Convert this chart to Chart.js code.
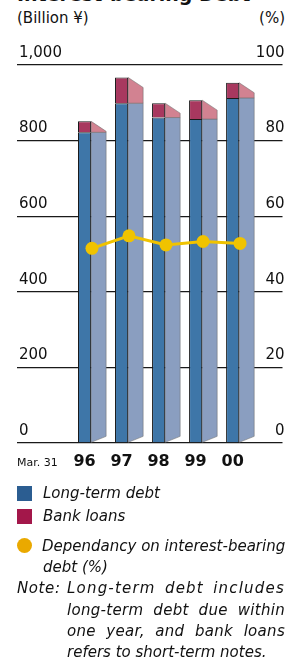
<!DOCTYPE html>
<html><head><meta charset="utf-8">
<script src="https://cdn.jsdelivr.net/npm/chart.js@4"></script>
<style>
html,body{margin:0;padding:0;background:#fff;width:289px;height:662px;overflow:hidden;font-family:"DejaVu Sans",sans-serif;color:#111}
#wrap{position:relative;width:289px;height:662px;overflow:hidden}
#c{position:absolute;left:0;top:0}
.t{position:absolute;white-space:nowrap}
.it{font-style:italic;font-size:15px;line-height:20px}
.sw{position:absolute;width:15px;height:15px}
.jl{position:absolute;left:67px;width:218px;text-align:justify;text-align-last:justify;font-style:italic;font-size:15px;line-height:20px;white-space:nowrap}
</style></head><body>
<div id="wrap">
<div class="t" style="left:17px;top:-15px;font-weight:bold;font-size:19px;line-height:19px">Interest-bearing Debt</div>
<div class="t" style="left:17px;top:11px;font-size:15px;line-height:15px">(Billion ¥)</div>
<div class="t" style="right:4px;top:11px;font-size:15px;line-height:15px">(%)</div>
<canvas id="c" width="289" height="480"></canvas>
<div class="t" style="left:17px;top:456px;font-size:11px;line-height:13px">Mar. 31</div>

<div class="sw" style="left:17px;top:486px;background:#2b5d91"></div>
<div class="t it" style="left:43px;top:483px">Long-term debt</div>
<div class="sw" style="left:17px;top:509px;background:#a3174a"></div>
<div class="t it" style="left:43px;top:506px">Bank loans</div>
<div class="sw" style="left:17px;top:538px;background:#eaa900;border-radius:50%"></div>
<div class="t it" style="left:42px;top:536px">Dependancy on interest-bearing</div>
<div class="t it" style="left:43px;top:557px">debt (%)</div>
<div class="t it" style="left:17px;top:578px;letter-spacing:0.6px">Note:</div>
<div class="jl" style="top:578px;letter-spacing:1.2px">Long-term debt includes</div>
<div class="jl" style="top:600px;letter-spacing:0.3px">long-term debt due within</div>
<div class="jl" style="top:621px;letter-spacing:0.3px">one year, and bank loans</div>
<div class="jl" style="top:642px;text-align:left;text-align-last:left">refers to short-term notes.</div>
</div>
<script>
const years = ['96', '97', '98', '99', '00'];
const longTermDebt = [822, 899, 861, 857, 913];
const bankLoans = [29, 68, 38, 50, 40];
const dependency = [51.5, 54.8, 52.4, 53.3, 52.8];
const leftTicks = [0, 200, 400, 600, 800, 1000];
const rightTicks = [0, 20, 40, 60, 80, 100];

const toXY = arr => arr.map((v, i) => ({x: i, y: v}));

const sideFaces = {
  id: 'sideFaces',
  beforeDatasetsDraw(chart) {
    const ctx = chart.ctx;
    const lt = chart.getDatasetMeta(0).data;
    const bk = chart.getDatasetMeta(1).data;
    const depth = 15, topDrop = 10, baseRise = 6;
    ctx.save();
    ctx.lineWidth = 1;
    ctx.strokeStyle = 'rgba(110,110,110,0.55)';
    lt.forEach((el, i) => {
      const b = bk[i];
      const xr = el.x + el.width / 2, xe = xr + depth;
      ctx.beginPath();
      ctx.moveTo(xr, el.base);
      ctx.lineTo(xe, el.base - baseRise);
      ctx.lineTo(xe, el.y);
      ctx.lineTo(xr, el.y);
      ctx.closePath();
      ctx.fillStyle = '#8a9ec0';
      ctx.fill();
      ctx.stroke();
      const drop = Math.min(topDrop, b.base - b.y);
      ctx.beginPath();
      ctx.moveTo(xr, b.y);
      ctx.lineTo(xe, b.y + drop);
      ctx.lineTo(xe, b.base);
      ctx.lineTo(xr, b.base);
      ctx.closePath();
      ctx.fillStyle = '#d28291';
      ctx.fill();
      ctx.stroke();
    });
    ctx.restore();
  }
};

const xMin = -1.825, xMax = 5.347, lineShift = 0.2;

const barStyle = {stack: 'a', order: 2, xAxisID: 'x', yAxisID: 'y', grouped: false,
  categoryPercentage: 1, barPercentage: 0.354, borderColor: '#1a1a1a', borderWidth: 1};

new Chart(document.getElementById('c'), {
  data: {
    datasets: [
      Object.assign({type: 'bar', label: 'Long-term debt', data: toXY(longTermDebt), backgroundColor: '#3e76a8'}, barStyle),
      Object.assign({type: 'bar', label: 'Bank loans', data: toXY(bankLoans), backgroundColor: '#a8385f'}, barStyle),
      {type: 'line', label: 'Dependancy on interest-bearing debt (%)', data: toXY(dependency), order: 0, xAxisID: 'x2', yAxisID: 'y1',
       borderColor: '#f0c300', borderWidth: 3, backgroundColor: '#f0c300', pointRadius: 6.5, pointBorderWidth: 0, pointHoverRadius: 6.5, tension: 0}
    ]
  },
  options: {
    responsive: false,
    animation: false,
    events: [],
    layout: {padding: {left: 17, right: -1, top: 65, bottom: 0}},
    plugins: {legend: {display: false}, tooltip: {enabled: false}},
    scales: {
      x: {
        type: 'linear', min: xMin, max: xMax, offset: false, bounds: 'data', stacked: true,
        grid: {display: false, drawTicks: false, offset: false}, border: {display: false},
        afterBuildTicks: s => { s.ticks = years.map((_, i) => ({value: i})); },
        afterFit: s => { s.height = 37; },
        ticks: {
          callback: v => years[v],
          color: '#111', padding: 9, maxRotation: 0, autoSkip: false,
          font: {family: 'DejaVu Sans', size: 16, weight: 'bold'}
        }
      },
      x2: {
        type: 'linear', display: false, offset: false, bounds: 'data', min: xMin - lineShift, max: xMax - lineShift
      },
      y: {
        position: 'left', min: 0, max: 1000, stacked: true,
        afterBuildTicks: s => { s.ticks = leftTicks.map(v => ({value: v})); },
        afterFit: s => { s.width = 0; },
        grid: {color: '#1a1a1a', lineWidth: 1.3, drawTicks: false},
        border: {display: false},
        ticks: {mirror: true, padding: 2, labelOffset: -12, color: '#111',
          callback: v => v.toLocaleString('en-US'),
          font: {family: 'DejaVu Sans', size: 15}}
      },
      y1: {
        position: 'right', min: 0, max: 100,
        afterBuildTicks: s => { s.ticks = rightTicks.map(v => ({value: v})); },
        afterFit: s => { s.width = 0; },
        grid: {display: false, drawTicks: false},
        border: {display: false},
        ticks: {mirror: true, padding: 2, labelOffset: -12, color: '#111',
          font: {family: 'DejaVu Sans', size: 15}}
      }
    }
  },
  plugins: [sideFaces]
});
</script>
</body></html>
